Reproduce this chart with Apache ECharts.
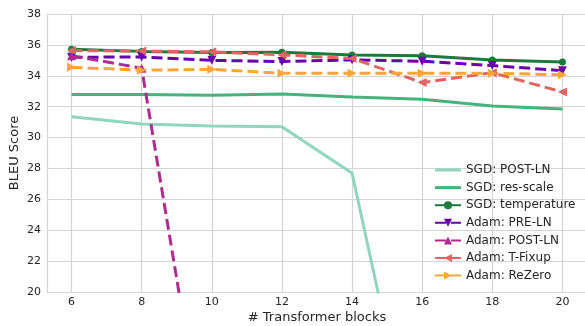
<!DOCTYPE html>
<html>
<head>
<meta charset="utf-8">
<script src="https://cdn.jsdelivr.net/npm/echarts@6/dist/echarts.min.js"></script>
<style>html,body{margin:0;padding:0;background:#fff}#c{width:585px;height:326px}</style>
</head>
<body>
<div id="c"></div>
<script>
const blocks = [6, 8, 10, 12, 14, 16, 18, 20];
const yTicks = [20, 22, 24, 26, 28, 30, 32, 34, 36, 38];
const sgdPostLN = [31.35, 30.88, 30.75, 30.7, 27.69, 6.9, null, null];
const sgdResScale = [32.78, 32.78, 32.74, 32.82, 32.63, 32.48, 32.05, 31.85];
const sgdTemperature = [35.72, 35.58, 35.5, 35.52, 35.35, 35.3, 35.02, 34.9];
const adamPreLN = [35.2, 35.22, 35.0, 34.92, 35.03, 34.94, 34.66, 34.33];
const adamPostLN = [35.3, 34.49, 7.2, null, null, null, null, null];
const adamTFixup = [35.63, 35.6, 35.55, 35.35, 35.12, 33.56, 34.2, 32.95];
const adamReZero = [34.55, 34.36, 34.42, 34.16, 34.16, 34.16, 34.16, 34.07];

const font = 'DejaVu Sans';
const txt = '#262626';
const gridC = '#d5d5d5';

function pairs(arr){ return blocks.map((b,i)=>[b, arr[i]]); }

function mk(name, arr, color, opts){
  return {
    name, type:'line', data: pairs(arr), clip:true, connectNulls:false,
    lineStyle:{color, width:3, type: opts.dash ? [11,5] : 'solid'},
    itemStyle:{color},
    symbol: opts.symbol || 'none',
    symbolSize: opts.size || 8,
    symbolRotate: opts.rotate || 0,
    showSymbol: !!opts.symbol,
    animation:false
  };
}

const series = [
  mk('SGD: POST-LN', sgdPostLN, '#8fd5bf', {}),
  mk('SGD: res-scale', sgdResScale, '#48b27d', {}),
  mk('SGD: temperature', sgdTemperature, '#1a7a3a', {symbol:'circle', size:7}),
  mk('Adam: PRE-LN', adamPreLN, '#6a00a8', {dash:true, symbol:'triangle', rotate:180, size:9}),
  mk('Adam: POST-LN', adamPostLN, '#b12a90', {dash:true, symbol:'triangle', size:9}),
  mk('Adam: T-Fixup', adamTFixup, '#e16462', {dash:true, symbol:'triangle', rotate:90, size:9}),
  mk('Adam: ReZero', adamReZero, '#fca636', {dash:true, symbol:'triangle', rotate:-90, size:9})
];

const lineIcon = 'path://M0,0 L26,0 L26,3 L0,3 Z';
const legendData = series.map(s => s.symbol === 'none' ? {name:s.name, icon:lineIcon} : {name:s.name});

const chart = echarts.init(document.getElementById('c'), null, {renderer:'canvas'});
chart.setOption({
  animation:false,
  textStyle:{fontFamily:font},
  grid:{left:47, right:-2, top:14, bottom:34, containLabel:false, outerBoundsMode:'none'},
  xAxis:{
    type:'value', min:5.3, max:20.7,
    name:'# Transformer blocks', nameLocation:'middle', nameGap:19, nameMoveOverlap:false,
    nameTextStyle:{fontFamily:font, fontSize:13, color:txt},
    axisLine:{show:true, lineStyle:{color:gridC, width:1.2}},
    axisTick:{show:false, customValues:blocks},
    axisLabel:{customValues:blocks, fontFamily:font, fontSize:11, color:txt, margin:5},
    splitLine:{show:true, lineStyle:{color:gridC, width:1.2}}
  },
  yAxis:{
    type:'value', min:20, max:38, interval:2,
    name:'BLEU Score', nameLocation:'middle', nameGap:26, nameMoveOverlap:false,
    nameTextStyle:{fontFamily:font, fontSize:13, color:txt},
    axisLine:{show:true, lineStyle:{color:gridC, width:1.2}},
    axisTick:{show:false},
    axisLabel:{fontFamily:font, fontSize:11, color:txt, margin:6,
      formatter:(v)=> yTicks.includes(v) ? String(v) : ''},
    splitLine:{show:true, lineStyle:{color:gridC, width:1.2}}
  },
  legend:{
    orient:'vertical', left:429, top:158,
    itemWidth:26, itemHeight:10, itemGap:3.6,
    textStyle:{fontFamily:font, fontSize:12, color:txt, lineHeight:14},
    data: legendData
  },
  series
});
</script>
</body>
</html>
